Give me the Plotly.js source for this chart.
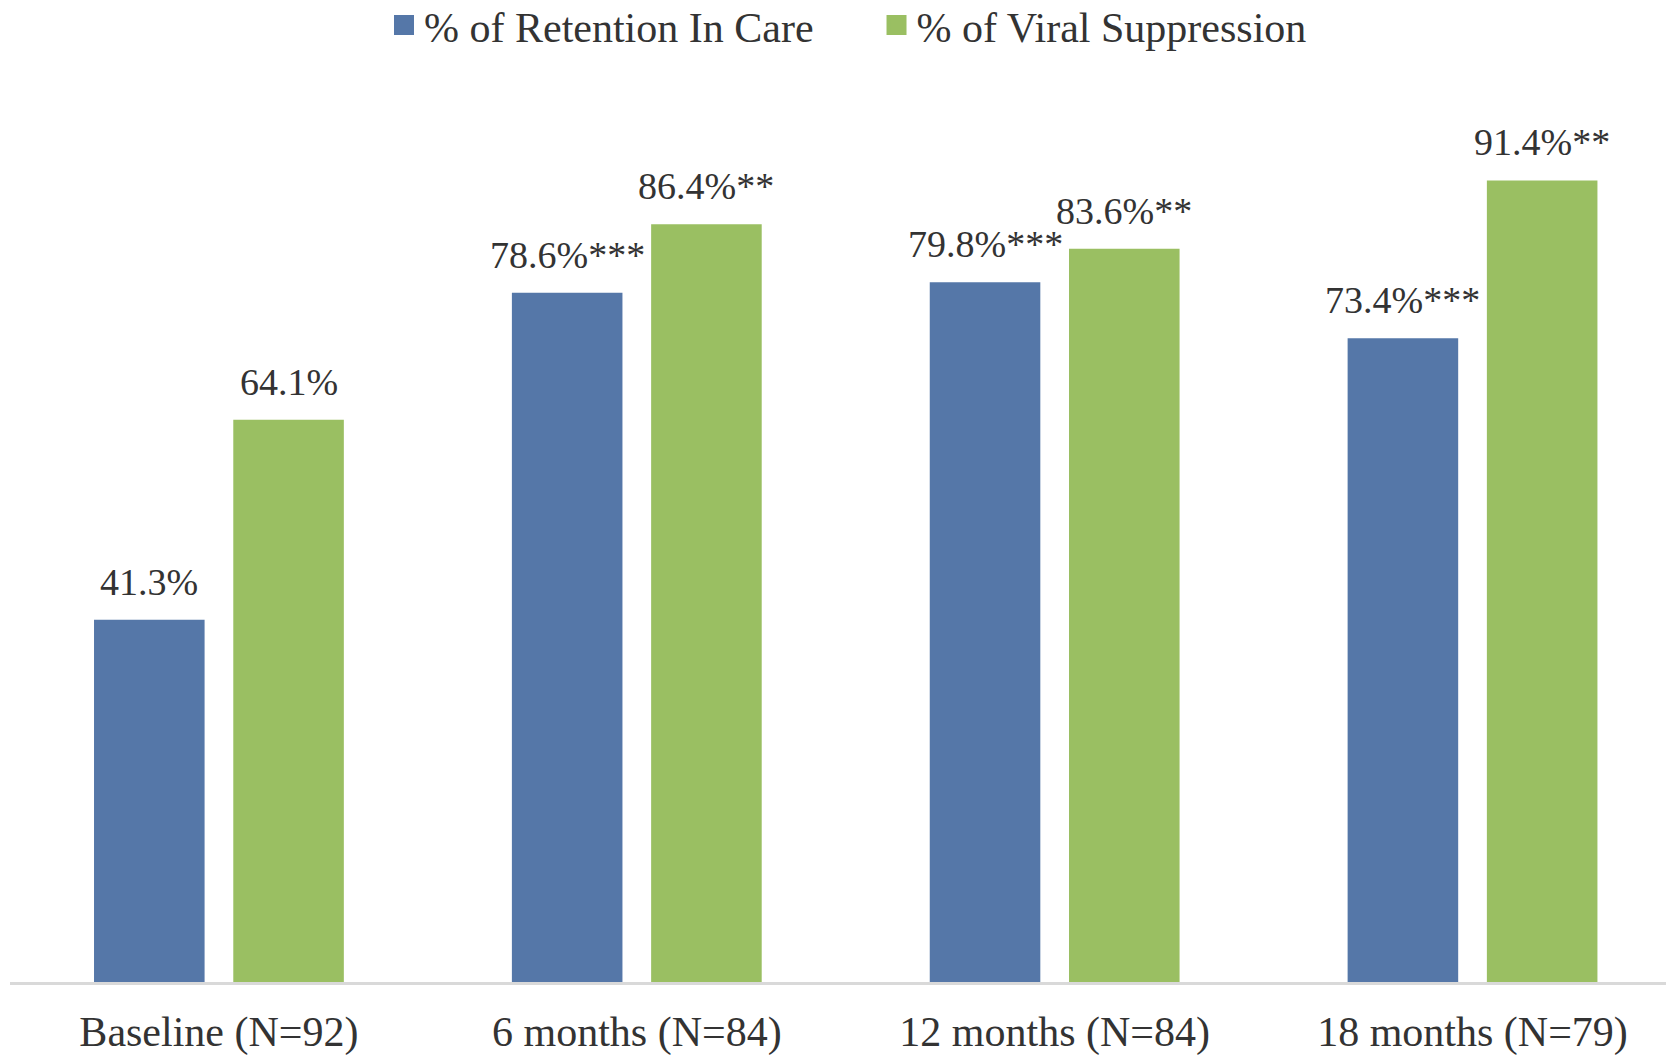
<!DOCTYPE html>
<html>
<head>
<meta charset="utf-8">
<script src="https://cdn.plot.ly/plotly-3.0.1.min.js"></script>
<style>
  html, body { margin: 0; padding: 0; background: #ffffff; }
  #chart { width: 1666px; height: 1055px; }
</style>
</head>
<body>
<div id="chart"></div>
<script>
// ---- data ----
const categories = ['Baseline (N=92)', '6 months (N=84)', '12 months (N=84)', '18 months (N=79)'];
const retentionValues = [41.3, 78.6, 79.8, 73.4];
const suppressionValues = [64.1, 86.4, 83.6, 91.4];
const retentionLabels = ['41.3%', '78.6%***', '79.8%***', '73.4%***'];
const suppressionLabels = ['64.1%', '86.4%**', '83.6%**', '91.4%**'];
const seriesNames = ['% of Retention In Care', '% of Viral Suppression'];

// ---- style ----
const FONT = 'Liberation Serif, Times New Roman, serif';
const TEXT_COLOR = '#333333';
const BLUE = '#5577a8';
const GREEN = '#9abf62';
const BARGAP = 0.3335;
const BARGROUPGAP = 0.206;
const COLORS = [BLUE, GREEN];

const traces = [
  { type: 'bar', name: seriesNames[0], x: categories, y: retentionValues,
    marker: { color: BLUE }, hoverinfo: 'x+y', showlegend: false, legendgroup: 'a' },
  { type: 'bar', name: seriesNames[1], x: categories, y: suppressionValues,
    marker: { color: GREEN }, hoverinfo: 'x+y', showlegend: false, legendgroup: 'b' }
];
// legend keys only (larger square swatches than the default bar key); no visible points
seriesNames.forEach((nm, k) => {
  traces.push({
    type: 'scatter', mode: 'markers', name: nm, x: [null], y: [null],
    legendgroup: k === 0 ? 'a' : 'b', showlegend: true, hoverinfo: 'skip',
    marker: { symbol: 'square', size: 16, color: COLORS[k], line: { color: COLORS[k], width: 4 } }
  });
});

// data labels above each bar, placed via the axis scales
const half = (1 - BARGAP) / 4;
const annotations = [];
[[retentionValues, retentionLabels, -1], [suppressionValues, suppressionLabels, 1]].forEach(([vals, labs, s]) => {
  vals.forEach((v, i) => {
    annotations.push({
      x: i + s * half, y: v, xref: 'x', yref: 'y',
      text: labs[i], showarrow: false,
      xanchor: 'center', yanchor: 'middle', yshift: 38,
      font: { family: FONT, size: 38, color: TEXT_COLOR }
    });
  });
});

const layout = {
  width: 1666, height: 1055,
  margin: { l: 10, r: 0, t: 105, b: 73, pad: 0 },
  paper_bgcolor: '#ffffff', plot_bgcolor: '#ffffff',
  barmode: 'group', bargap: BARGAP, bargroupgap: BARGROUPGAP,
  showlegend: true,
  legend: {
    orientation: 'h', xref: 'container', yref: 'container',
    x: 0.2305, xanchor: 'left', y: 0.976, yanchor: 'middle',
    font: { family: FONT, size: 42, color: TEXT_COLOR },
    entrywidth: 447.5, bgcolor: 'rgba(0,0,0,0)', traceorder: 'normal'
  },
  xaxis: {
    type: 'category', range: [-0.5, 3.463],
    showline: true, linecolor: '#d9d9d9', linewidth: 3,
    showgrid: false, zeroline: false, ticks: '',
    ticklabelstandoff: 11, tickangle: 0, automargin: false,
    tickfont: { family: FONT, size: 42, color: TEXT_COLOR },
    fixedrange: true
  },
  yaxis: {
    range: [0, 100], visible: false, showgrid: false, zeroline: false, fixedrange: true
  },
  annotations: annotations
};

Plotly.newPlot('chart', traces, layout, { displayModeBar: false, staticPlot: true });
</script>
</body>
</html>
